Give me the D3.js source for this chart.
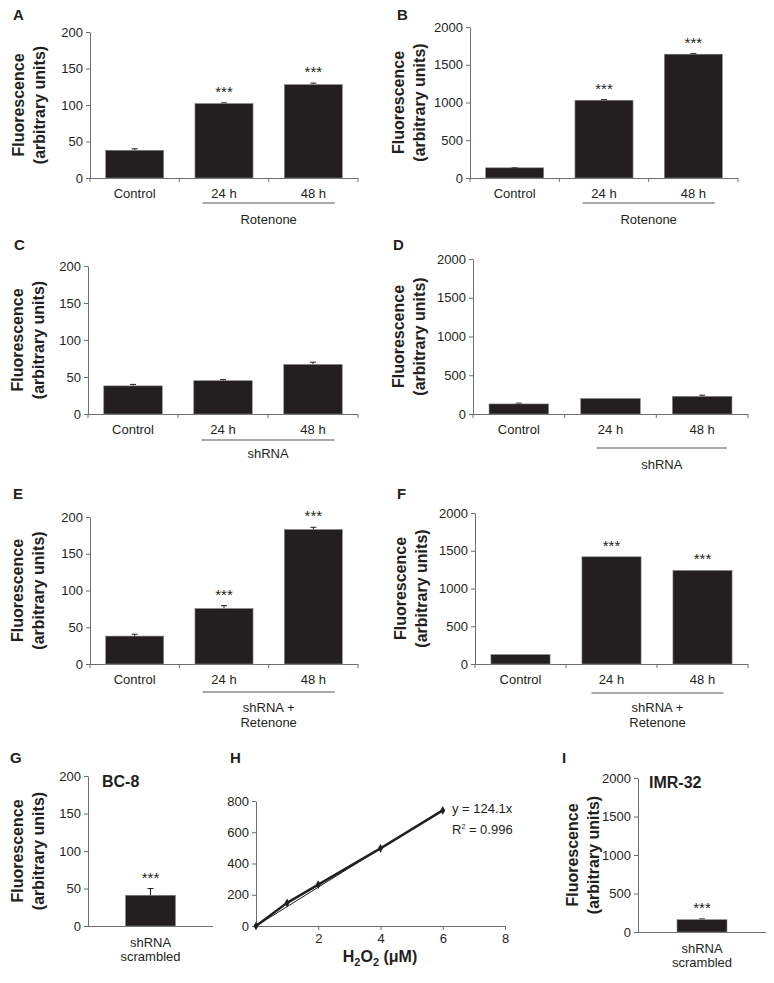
<!DOCTYPE html>
<html>
<head>
<meta charset="utf-8">
<script src="https://d3js.org/d3.v7.min.js"></script>
<style>
  body { margin: 0; background: #fff; }
  text { font-family: "Liberation Sans", Arial, sans-serif; fill: #231f20; }
</style>
</head>
<body>
<script>
// ---- data ----
var timeCats = ["Control", "24 h", "48 h"];
var scrambledCat = ["shRNA scrambled"];

var valsA = [38, 102, 128];   var errA = [2, 1, 2];    var starsA = ["", "***", "***"];
var valsB = [135, 1030, 1640]; var errB = [4, 8, 8];   var starsB = ["", "***", "***"];
var valsC = [38, 45, 67];     var errC = [2, 1.5, 3];  var starsC = ["", "", ""];
var valsD = [130, 200, 228];  var errD = [10, 0, 15];  var starsD = ["", "", ""];
var valsE = [38, 75.5, 183];  var errE = [2.5, 4, 3];  var starsE = ["", "***", "***"];
var valsF = [125, 1420, 1240]; var errF = [0, 0, 0];   var starsF = ["", "***", "***"];
var valsG = [41];  var errG = [9];  var starsG = ["***"];
var valsI = [160]; var errI = [10]; var starsI = ["***"];

var ticks200 = [0, 50, 100, 150, 200];
var ticks2000 = [0, 500, 1000, 1500, 2000];

// standard curve (panel H)
var h2o2 = [0, 1, 2, 4, 6];
var fluo = [0, 148, 265, 497, 740];
var slope = 124.1;
var hXTicks = [2, 4, 6, 8];
var hYTicks = [0, 200, 400, 600, 800];

var ink = "#231f20";
var axisCol = "#6d6e71";
var fmt = d3.format("d");

var svg = d3.select("body").append("svg")
    .attr("width", 774)
    .attr("height", 983);

function styleAxis(g) {
    g.select(".domain").attr("stroke", axisCol);
    g.selectAll(".tick line").attr("stroke", axisCol);
    g.selectAll(".tick text").style("font-size", "13px").attr("fill", ink);
}

function letter(t, x, y) {
    svg.append("text").attr("x", x).attr("y", y)
        .style("font-size", "15px").style("font-weight", "bold").text(t);
}

function yLabel(lab, cy) {
    var g = svg.append("g").attr("transform", "translate(" + lab + "," + cy + ") rotate(-90)");
    g.append("text").attr("text-anchor", "middle").attr("dy", "0.35em")
        .style("font-size", "16px").style("font-weight", "bold").text("Fluorescence");
    g.append("text").attr("text-anchor", "middle").attr("y", 21).attr("dy", "0.35em")
        .style("font-size", "16px").style("font-weight", "bold").text("(arbitrary units)");
}

function drawBar(p) {
    var y = d3.scaleLinear().domain([0, p.max]).range([p.yBot, p.yTop]);
    var x = d3.scaleBand().domain(p.cats).range([p.x0, p.x1])
        .paddingInner(p.pi).paddingOuter(p.po);

    letter(p.letter, p.lx, p.ly);
    yLabel(p.lab, (p.yTop + p.yBot) / 2);

    var gy = svg.append("g").attr("transform", "translate(" + p.x0 + ",0)")
        .call(d3.axisLeft(y).tickValues(p.ticks).tickFormat(fmt)
            .tickSize(4).tickPadding(3).tickSizeOuter(0));
    styleAxis(gy);

    // x axis line + boundary ticks
    svg.append("line").attr("x1", p.x0).attr("x2", p.x1)
        .attr("y1", p.yBot + 0.5).attr("y2", p.yBot + 0.5).attr("stroke", axisCol);
    if (p.cats.length > 1) {
        var step = (p.x1 - p.x0) / p.cats.length;
        svg.selectAll(null).data(d3.range(0, p.cats.length + 1)).enter().append("line")
            .attr("x1", function (i) { return p.x0 + i * step; })
            .attr("x2", function (i) { return p.x0 + i * step; })
            .attr("y1", p.yBot).attr("y2", p.yBot + 4).attr("stroke", axisCol);
    }

    var rows = p.cats.map(function (c, i) {
        return { c: c, v: p.vals[i], e: p.errs[i], s: p.stars[i] };
    });

    // error bars
    var eb = rows.filter(function (d) { return d.e > 0; });
    svg.selectAll(null).data(eb).enter().append("line")
        .attr("x1", function (d) { return x(d.c) + x.bandwidth() / 2; })
        .attr("x2", function (d) { return x(d.c) + x.bandwidth() / 2; })
        .attr("y1", function (d) { return y(d.v); })
        .attr("y2", function (d) { return y(d.v + d.e); })
        .attr("stroke", ink).attr("stroke-width", 1);
    svg.selectAll(null).data(eb).enter().append("line")
        .attr("x1", function (d) { return x(d.c) + x.bandwidth() / 2 - 3; })
        .attr("x2", function (d) { return x(d.c) + x.bandwidth() / 2 + 3; })
        .attr("y1", function (d) { return y(d.v + d.e); })
        .attr("y2", function (d) { return y(d.v + d.e); })
        .attr("stroke", ink).attr("stroke-width", 1);

    svg.selectAll(null).data(rows).enter().append("rect")
        .attr("x", function (d) { return x(d.c); })
        .attr("width", x.bandwidth())
        .attr("y", function (d) { return y(d.v); })
        .attr("height", function (d) { return p.yBot - y(d.v); })
        .attr("fill", ink)
        .attr("stroke", "#8a8a8a").attr("stroke-width", 0.6);

    svg.selectAll(null).data(rows.filter(function (d) { return d.s; })).enter().append("text")
        .attr("x", function (d) { return x(d.c) + x.bandwidth() / 2; })
        .attr("y", function (d) { return y(d.v + d.e) - 6; })
        .attr("text-anchor", "middle").style("font-size", "15px")
        .text(function (d) { return d.s; });

    // category labels
    if (p.catLines) {
        p.catLines.forEach(function (t, k) {
            svg.append("text").attr("x", x(p.cats[0]) + x.bandwidth() / 2)
                .attr("y", p.yBot + 16 + k * 14).attr("dy", "0.35em")
                .attr("text-anchor", "middle").style("font-size", "13px").text(t);
        });
    } else {
        svg.selectAll(null).data(p.cats).enter().append("text")
            .attr("x", function (c) { return x(c) + x.bandwidth() / 2; })
            .attr("y", p.yBot + 15).attr("dy", "0.35em")
            .attr("text-anchor", "middle").style("font-size", "13px")
            .text(function (c) { return c; });
    }

    // group underline and label
    if (p.group) {
        var st = x.step();
        var ux0 = x(p.cats[1]) - st * x.paddingInner() / 2 + st * p.uf0;
        var ux1 = x(p.cats[2]) + x.bandwidth() + st * x.paddingInner() / 2 - st * p.uf1;
        var uy = p.yBot + p.ul;
        svg.append("line").attr("x1", ux0).attr("x2", ux1)
            .attr("y1", uy).attr("y2", uy).attr("stroke", "#555").attr("stroke-width", 1.2);
        p.group.forEach(function (t, k) {
            svg.append("text").attr("x", (ux0 + ux1) / 2)
                .attr("y", uy + p.gl + k * 15).attr("dy", "0.35em")
                .attr("text-anchor", "middle").style("font-size", "13px").text(t);
        });
    }

    if (p.title) {
        svg.append("text").attr("x", p.tx).attr("y", p.ty)
            .style("font-size", "16px").style("font-weight", "bold").text(p.title);
    }
}

var three = { cats: timeCats, pi: 0.35, po: 0.175 };

drawBar(Object.assign({}, three, {
    letter: "A", lx: 13, ly: 20, lab: 18, x0: 90, x1: 358, yTop: 32, yBot: 178,
    max: 200, ticks: ticks200, vals: valsA, errs: errA, stars: starsA,
    group: ["Rotenone"], ul: 25, gl: 16, uf0: 0.26, uf1: 0.26
}));
drawBar(Object.assign({}, three, {
    letter: "B", lx: 397, ly: 20, lab: 398, x0: 470, x1: 738, yTop: 27, yBot: 178,
    max: 2000, ticks: ticks2000, vals: valsB, errs: errB, stars: starsB,
    group: ["Rotenone"], ul: 25, gl: 16, uf0: 0.26, uf1: 0.26
}));
drawBar(Object.assign({}, three, {
    letter: "C", lx: 14, ly: 250, lab: 17, x0: 88, x1: 358, yTop: 266, yBot: 414,
    max: 200, ticks: ticks200, vals: valsC, errs: errC, stars: starsC,
    group: ["shRNA"], ul: 26, gl: 13, uf0: 0.26, uf1: 0.26
}));
drawBar(Object.assign({}, three, {
    letter: "D", lx: 393, ly: 250, lab: 398, x0: 473, x1: 748, yTop: 259, yBot: 414,
    max: 2000, ticks: ticks2000, vals: valsD, errs: errD, stars: starsD,
    group: ["shRNA"], ul: 34, gl: 16, uf0: 0.35, uf1: 0.23
}));
drawBar(Object.assign({}, three, {
    letter: "E", lx: 13, ly: 499, lab: 17, x0: 90, x1: 358, yTop: 517, yBot: 664,
    max: 200, ticks: ticks200, vals: valsE, errs: errE, stars: starsE,
    group: ["shRNA +", "Retenone"], ul: 28, gl: 15, uf0: 0.26, uf1: 0.26
}));
drawBar(Object.assign({}, three, {
    letter: "F", lx: 397, ly: 499, lab: 400, x0: 475, x1: 748, yTop: 513, yBot: 664,
    max: 2000, ticks: ticks2000, vals: valsF, errs: errF, stars: starsF,
    group: ["shRNA +", "Retenone"], ul: 29, gl: 14, uf0: 0.28, uf1: 0.27
}));
drawBar({
    cats: scrambledCat, pi: 0, po: 0.75, catLines: ["shRNA", "scrambled"],
    letter: "G", lx: 10, ly: 763, lab: 17, x0: 88, x1: 213, yTop: 776, yBot: 926,
    max: 200, ticks: ticks200, vals: valsG, errs: errG, stars: starsG,
    title: "BC-8", tx: 102, ty: 787
});
drawBar({
    cats: scrambledCat, pi: 0, po: 0.78, catLines: ["shRNA", "scrambled"],
    letter: "I", lx: 562, ly: 763, lab: 572, x0: 638, x1: 766, yTop: 778, yBot: 932,
    max: 2000, ticks: ticks2000, vals: valsI, errs: errI, stars: starsI,
    title: "IMR-32", tx: 649, ty: 788
});

// ---- panel H: standard curve ----
(function () {
    var x0 = 256, x1 = 505, yTop = 801, yBot = 926;
    var x = d3.scaleLinear().domain([0, 8]).range([x0, x1]);
    var y = d3.scaleLinear().domain([0, 800]).range([yBot, yTop]);

    letter("H", 230, 763);

    var gx = svg.append("g").attr("transform", "translate(0," + yBot + ")")
        .call(d3.axisBottom(x).tickValues(hXTicks).tickFormat(fmt)
            .tickSize(4).tickPadding(4).tickSizeOuter(0));
    styleAxis(gx);
    var gy = svg.append("g").attr("transform", "translate(" + x0 + ",0)")
        .call(d3.axisLeft(y).tickValues(hYTicks).tickFormat(fmt)
            .tickSize(4).tickPadding(3).tickSizeOuter(0));
    styleAxis(gy);

    // fitted line
    svg.append("line")
        .attr("x1", x(0)).attr("y1", y(0))
        .attr("x2", x(6)).attr("y2", y(slope * 6))
        .attr("stroke", ink).attr("stroke-width", 1);

    var pts = h2o2.map(function (v, i) { return [v, fluo[i]]; });
    svg.append("path").datum(pts)
        .attr("d", d3.line().x(function (d) { return x(d[0]); }).y(function (d) { return y(d[1]); }))
        .attr("fill", "none").attr("stroke", ink).attr("stroke-width", 2.4);
    svg.selectAll(null).data(pts).enter().append("path")
        .attr("transform", function (d) { return "translate(" + x(d[0]) + "," + y(d[1]) + ")"; })
        .attr("d", d3.symbol().type(d3.symbolDiamond).size(22))
        .attr("fill", ink);

    svg.append("text").attr("x", 452).attr("y", 813).style("font-size", "13px").text("y = 124.1x");
    var r = svg.append("text").attr("x", 452).attr("y", 834).style("font-size", "13px");
    r.append("tspan").text("R");
    r.append("tspan").attr("dy", -5).style("font-size", "7px").text("2");
    r.append("tspan").attr("dy", 5).text(" = 0.996");

    var xl = svg.append("text").attr("x", 380).attr("y", 962).attr("text-anchor", "middle")
        .style("font-size", "16px").style("font-weight", "bold");
    xl.append("tspan").text("H");
    xl.append("tspan").attr("dy", 4).style("font-size", "11px").text("2");
    xl.append("tspan").attr("dy", -4).text("O");
    xl.append("tspan").attr("dy", 4).style("font-size", "11px").text("2");
    xl.append("tspan").attr("dy", -4).text(" (\u03bcM)");
})();
</script>
</body>
</html>
